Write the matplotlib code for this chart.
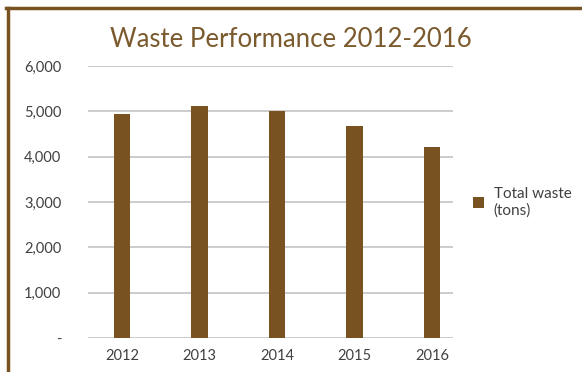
import matplotlib.pyplot as plt
from matplotlib.lines import Line2D

years = ["2012", "2013", "2014", "2015", "2016"]
total_waste = [4950, 5120, 5000, 4680, 4210]
y_ticks = [0, 1000, 2000, 3000, 4000, 5000, 6000]
y_labels = ["-", "1,000", "2,000", "3,000", "4,000", "5,000", "6,000"]

brown = "#785220"
plt.rcParams["font.family"] = ["Lato", "DejaVu Sans"]

fig = plt.figure(figsize=(5.82, 3.72), dpi=100)
ax = fig.add_axes([0.151, 0.0914, 0.627, 0.7312])

x = range(len(years))
ax.bar(x, total_waste, width=0.21, color=brown, label="Total waste\n(tons)", zorder=3)
ax.set_xticks(list(x))
ax.set_xticklabels(years)
ax.set_yticks(y_ticks)
ax.set_yticklabels(y_labels)
ax.set_ylim(0, 6000)
ax.set_xlim(-0.44, 4.27)
ax.tick_params(length=0, labelsize=10.5, colors="#404040")
ax.tick_params(axis="x", pad=8)
ax.tick_params(axis="y", pad=19)
ax.grid(axis="y", color="#c4c4c4", linewidth=1.2, zorder=0)
for s in ax.spines.values():
    s.set_visible(False)

fig.text(0.5, 0.895, "Waste Performance 2012-2016", ha="center", va="center",
         fontsize=18.5, color="#7b5a2e")

ax.legend(loc="center left", bbox_to_anchor=(1.03, 0.5), frameon=False,
          fontsize=11, handlelength=0.75, handleheight=0.75, handletextpad=0.6,
          labelcolor="#404040", borderaxespad=0.2)

# border on left and top
fig.add_artist(Line2D([0.013, 0.013], [0, 0.978], color=brown, linewidth=2.5,
                      transform=fig.transFigure))
fig.add_artist(Line2D([0.011, 1], [0.978, 0.978], color=brown, linewidth=2.5,
                      transform=fig.transFigure))

fig.savefig("out.png", dpi=100)
